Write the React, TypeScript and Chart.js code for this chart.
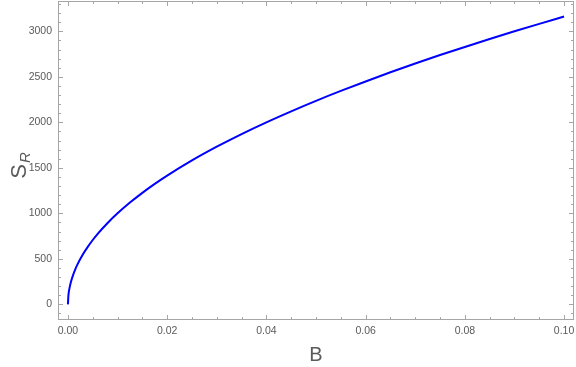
import React, { useEffect, useRef } from "react";
import { Chart, registerables } from "chart.js";

Chart.register(...registerables);

const bValues = [0, 0.0001, 0.0003, 0.0006, 0.001, 0.0015, 0.002, 0.003, 0.004, 0.005, 0.006, 0.008, 0.01, 0.0125, 0.015, 0.0175, 0.02, 0.025, 0.03, 0.035, 0.04, 0.045, 0.05, 0.055, 0.06, 0.065, 0.07, 0.075, 0.08, 0.085, 0.09, 0.095, 0.1];
const sValues = [0, 100, 173, 245, 316, 387, 447, 548, 632, 707, 775, 894, 1000, 1118, 1225, 1323, 1414, 1581, 1732, 1871, 2000, 2121, 2236, 2345, 2449, 2550, 2646, 2739, 2828, 2915, 3000, 3082, 3162];
const xTicks = [0, 0.02, 0.04, 0.06, 0.08, 0.1];
const yTicks = [0, 500, 1000, 1500, 2000, 2500, 3000];
const xMinorTicks = [-0.005, 0.005, 0.01, 0.015, 0.025, 0.03, 0.035, 0.045, 0.05, 0.055, 0.065, 0.07, 0.075, 0.085, 0.09, 0.095, 0.105];
const yMinorTicks = [-100, 100, 200, 300, 400, 600, 700, 800, 900, 1100, 1200, 1300, 1400, 1600, 1700, 1800, 1900, 2100, 2200, 2300, 2400, 2600, 2700, 2800, 2900, 3100, 3200, 3300];
const xTitle = "B";
const yTitleMain = "S";
const yTitleSub = "R";

const FRAME = "#a6a6a6";
const TEXT = "#5a5a5a";

const framePlugin = {
  id: "mmaFrame",
  afterDraw(chart: any) {
    const { ctx, chartArea: a, scales } = chart;
    const xs = scales.x;
    const ys = scales.y;
    ctx.save();
    ctx.strokeStyle = FRAME;
    ctx.lineWidth = 1;
    ctx.strokeRect(a.left + 0.5, a.top + 0.5, a.right - a.left - 1, a.bottom - a.top - 1);
    const tick = (vals: number[], len: number) => {
      vals.forEach((v) => {
        const px = Math.round(xs.getPixelForValue(v)) + 0.5;
        if (px < a.left || px > a.right) return;
        ctx.beginPath();
        ctx.moveTo(px, a.bottom);
        ctx.lineTo(px, a.bottom - len);
        ctx.moveTo(px, a.top);
        ctx.lineTo(px, a.top + len);
        ctx.stroke();
      });
    };
    const ytick = (vals: number[], len: number) => {
      vals.forEach((v) => {
        const py = Math.round(ys.getPixelForValue(v)) + 0.5;
        if (py < a.top || py > a.bottom) return;
        ctx.beginPath();
        ctx.moveTo(a.left, py);
        ctx.lineTo(a.left + len, py);
        ctx.moveTo(a.right, py);
        ctx.lineTo(a.right - len, py);
        ctx.stroke();
      });
    };
    tick(xTicks, 5);
    tick(xMinorTicks, 3);
    ytick(yTicks, 5);
    ytick(yMinorTicks, 3);

    // y title S_R rotated
    ctx.fillStyle = TEXT;
    ctx.translate(26, 166);
    ctx.rotate(-Math.PI / 2);
    ctx.textBaseline = "alphabetic";
    ctx.textAlign = "left";
    ctx.font = '22px "Liberation Sans", Arial, sans-serif';
    const wS = ctx.measureText(yTitleMain).width;
    ctx.font = 'italic 15px "Liberation Sans", Arial, sans-serif';
    const wR = ctx.measureText(yTitleSub).width;
    const start = -(wS + wR) / 2;
    ctx.font = '22px "Liberation Sans", Arial, sans-serif';
    ctx.fillText(yTitleMain, start, 0);
    ctx.font = 'italic 15px "Liberation Sans", Arial, sans-serif';
    ctx.fillText(yTitleSub, start + wS + 1, 4);
    ctx.restore();
  },
};

export default function App() {
  const ref = useRef<HTMLCanvasElement | null>(null);
  useEffect(() => {
    document.body.style.margin = "0";
    const canvas = ref.current!;
    const chart = new Chart(canvas, {
      type: "line",
      data: {
        datasets: [
          {
            data: bValues.map((b, i) => ({ x: b, y: sValues[i] })),
            borderColor: "#0000ff",
            borderWidth: 2,
            pointRadius: 0,
            cubicInterpolationMode: "monotone",
            fill: false,
          },
        ],
      },
      options: {
        animation: false,
        responsive: false,
        maintainAspectRatio: false,
        layout: { padding: { top: 1, right: 2, left: 0, bottom: 0 } },
        plugins: { legend: { display: false }, tooltip: { enabled: false } },
        scales: {
          x: {
            type: "linear",
            min: -0.002,
            max: 0.102,
            afterBuildTicks: (s: any) => {
              s.ticks = xTicks.map((v) => ({ value: v }));
            },
            afterFit: (s: any) => {
              s.height = 47;
              s.paddingLeft = 0;
              s.paddingRight = 0;
              s.paddingTop = 0;
              s.paddingBottom = 0;
            },
            grid: { display: false, drawTicks: false },
            border: { display: false },
            ticks: {
              padding: 5,
              color: TEXT,
              font: { family: '"Liberation Sans", Arial, sans-serif', size: 10.5 },
              maxRotation: 0,
              autoSkip: false,
              callback: (v: any) => Number(v).toFixed(2),
            },
            title: {
              display: true,
              text: xTitle,
              color: TEXT,
              font: { family: '"Liberation Sans", Arial, sans-serif', size: 20 },
              padding: { top: 4, bottom: 0 },
            },
          },
          y: {
            type: "linear",
            min: -172,
            max: 3333,
            afterBuildTicks: (s: any) => {
              s.ticks = yTicks.map((v) => ({ value: v }));
            },
            afterFit: (s: any) => {
              s.width = 58;
              s.paddingLeft = 0;
              s.paddingRight = 0;
              s.paddingTop = 0;
              s.paddingBottom = 0;
            },
            grid: { display: false, drawTicks: false },
            border: { display: false },
            ticks: {
              padding: 6,
              color: TEXT,
              font: { family: '"Liberation Sans", Arial, sans-serif', size: 10.5 },
              autoSkip: false,
              callback: (v: any) => String(v),
            },
          },
        },
      } as any,
      plugins: [framePlugin],
    });
    return () => chart.destroy();
  }, []);
  return (
    <div style={{ width: 576, height: 367 }}>
      <canvas ref={ref} width={576} height={367} style={{ display: "block" }} />
    </div>
  );
}
